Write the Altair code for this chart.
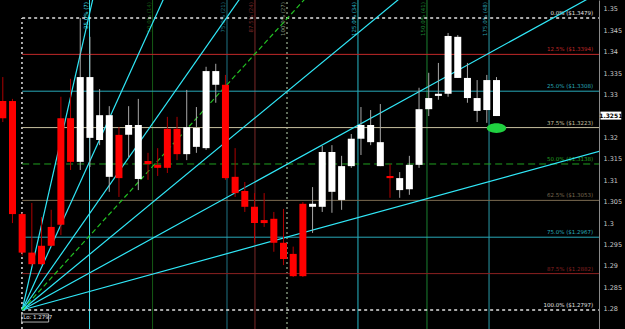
import altair as alt
import pandas as pd

# ---------------- data ----------------
bar_index = list(range(1, 53))
open_ = [1.3285, 1.3285, 1.3021, 1.2931, 1.2947, 1.2991, 1.3245, 1.3245, 1.3143, 1.3199,
         1.3194, 1.3108, 1.3206, 1.3206, 1.3103, 1.3145, 1.3136, 1.3220, 1.3220, 1.3161,
         1.3178, 1.3175, 1.3323, 1.3323, 1.3108, 1.3075, 1.3038, 1.3007, 1.3010, 1.2954,
         1.2928, 1.3045, 1.3038, 1.3038, 1.3073, 1.3054, 1.3133, 1.3197, 1.3189, 1.3133,
         1.3110, 1.3077, 1.3079, 1.3136, 1.3266, 1.3297, 1.3302, 1.3339, 1.3292, 1.3262,
         1.3264, 1.3250]
high = [1.3341, 1.3290, 1.3024, 1.3047, 1.3014, 1.3031, 1.3295, 1.3337, 1.3479, 1.3435,
        1.3313, 1.3273, 1.3224, 1.3273, 1.3290, 1.3164, 1.3175, 1.3248, 1.3248, 1.3311,
        1.3271, 1.3365, 1.3372, 1.3346, 1.3175, 1.3096, 1.3070, 1.3070, 1.3026, 1.3033,
        1.2945, 1.3049, 1.3084, 1.3180, 1.3182, 1.3157, 1.3208, 1.3271, 1.3264, 1.3278,
        1.3138, 1.3119, 1.3157, 1.3316, 1.3351, 1.3374, 1.3444, 1.3439, 1.3374, 1.3334,
        1.3346, 1.3341]
low = [1.3236, 1.3000, 1.2924, 1.2900, 1.2902, 1.2945, 1.2972, 1.3124, 1.3124, 1.3131,
       1.3182, 1.3073, 1.3061, 1.3154, 1.3077, 1.3101, 1.3110, 1.3117, 1.3147, 1.3147,
       1.3164, 1.3171, 1.3281, 1.3101, 1.3061, 1.3026, 1.2954, 1.2991, 1.2933, 1.2902,
       1.2874, 1.2874, 1.2977, 1.3026, 1.3024, 1.3031, 1.3129, 1.3159, 1.3182, 1.3133,
       1.3059, 1.3059, 1.3066, 1.3129, 1.3250, 1.3288, 1.3295, 1.3339, 1.3281, 1.3236,
       1.3234, 1.3250]
close = [1.3245, 1.3021, 1.2931, 1.2904, 1.2904, 1.2947, 1.2996, 1.3143, 1.3341, 1.3341,
         1.3252, 1.3252, 1.3105, 1.3229, 1.3229, 1.3138, 1.3129, 1.3129, 1.3161, 1.3224,
         1.3222, 1.3355, 1.3355, 1.3105, 1.3070, 1.3038, 1.3000, 1.3000, 1.2954, 1.2916,
         1.2876, 1.2876, 1.3045, 1.3166, 1.3166, 1.3133, 1.3197, 1.3229, 1.3229, 1.3189,
         1.3105, 1.3105, 1.3136, 1.3266, 1.3292, 1.3302, 1.3437, 1.3435, 1.3339, 1.3292,
         1.3334, 1.3334]

fib_pct = ["0.0%", "12.5%", "25.0%", "37.5%", "50.0%", "62.5%", "75.0%", "87.5%", "100.0%"]
fib_price = [1.3479, 1.3394, 1.3308, 1.3223, 1.3138, 1.3053, 1.2967, 1.2882, 1.2797]
fib_color = ["#e0e0e0", "#c02828", "#28a8b8", "#c8c0a0", "#20a020", "#7a6a50", "#28a8b8", "#8a2020", "#e0e0e0"]

fan_ratios = [4, 2, 1.3, 1, 0.75, 0.5, 0.25]
fan_unit = 0.002487          # price per bar of the 1x1 line
fan_origin_bar = 3
fan_origin_price = 1.2797

vline_bar = [2.98, 9.96, 16.47, 24.16, 27.05, 30.36, 37.69, 44.82, 51.23]
vline_color = ["#e0e0e0", "#40e0f0", "#145a14", "#1f7484", "#7a2828", "#7f8f78", "#28b8c8", "#1a8030", "#2a9aa8"]
vline_dash = [[2, 3], [], [], [], [], [2, 3], [], [], []]
vline_text = ["", "25.0% (7)", "50.0% (14)", "75.0% (21)", "87.5% (24)", "100.0% (27)",
              "125.0% (34)", "150.0% (41)", "175.0% (48)"]

current_price = 1.3251
ellipse_bar = 52
ellipse_price = 1.3222

X_DOMAIN = [0.711, 62.59]
Y_DOMAIN = [1.27526, 1.35210]
axis_values = [1.28, 1.285, 1.29, 1.295, 1.3, 1.305, 1.31, 1.315, 1.32,
               1.33, 1.335, 1.34, 1.345, 1.35]

FONT = "DejaVu Sans"

# ---------------- tables ----------------
candles = pd.DataFrame(dict(i=bar_index, o=open_, h=high, l=low, c=close))

fan_rows = []
for k, r in enumerate(fan_ratios):
    for x in (fan_origin_bar, X_DOMAIN[1] + 1):
        fan_rows.append(dict(fan=k, ratio=r, i=x,
                             p=fan_origin_price + r * fan_unit * (x - fan_origin_bar)))
fan = pd.DataFrame(fan_rows)

fib = pd.DataFrame(dict(pct=fib_pct, p=fib_price, col=fib_color))
fib["label"] = [f"{a} (${b:.4f})" for a, b in zip(fib_pct, fib_price)]
fib["x0"] = fan_origin_bar
fib["x1"] = X_DOMAIN[1]
fib["xl"] = X_DOMAIN[1] - 0.6

xs = alt.Scale(domain=X_DOMAIN, nice=False, zero=False, padding=0)
ys = alt.Scale(domain=Y_DOMAIN, nice=False, zero=False, padding=0)
yaxis = alt.Axis(orient="right", values=axis_values, format="~g", ticks=False, grid=False,
                 labelColor="#c8c8c8", labelFontSize=6.5, labelFont=FONT, domainColor="#8a8a8a",
                 labelPadding=4, title=None, labelOverlap=False)


def X(f):
    return alt.X(f, scale=xs, axis=None)


def Y(f):
    return alt.Y(f, scale=ys, axis=yaxis)


layers = []

# vertical lines
for b, col, dash, txt in zip(vline_bar, vline_color, vline_dash, vline_text):
    top = fib_price[0] if (dash and b < 5) else Y_DOMAIN[1]
    d = pd.DataFrame(dict(i=[b], y0=[Y_DOMAIN[0]], y1=[top], t=[txt], yt=[Y_DOMAIN[1]]))
    kw = dict(color=col, strokeWidth=1)
    if dash:
        kw["strokeDash"] = dash
        kw["strokeWidth"] = 1.5
    layers.append(alt.Chart(d).mark_rule(**kw).encode(x=X("i:Q"), y=Y("y0:Q"), y2="y1:Q"))
    if txt:
        layers.append(alt.Chart(d).mark_text(angle=270, align="right", baseline="bottom",
                                             fontSize=5.5, font=FONT, color=col, dx=-2, dy=-1).encode(
            x=X("i:Q"), y=Y("yt:Q"), text="t:N"))

# horizontal fib lines
for _, row in fib.iterrows():
    d = pd.DataFrame([row])
    kw = dict(color=row["col"], strokeWidth=1)
    if row["pct"] in ("0.0%", "100.0%"):
        kw["strokeDash"] = [3, 3]
        kw["strokeWidth"] = 1.5
    if row["pct"] == "50.0%":
        kw["strokeDash"] = [7, 4]
    layers.append(alt.Chart(d).mark_rule(**kw).encode(x=X("x0:Q"), x2="x1:Q", y=Y("p:Q")))
    layers.append(alt.Chart(d).mark_text(align="right", baseline="bottom", fontSize=5.5, font=FONT,
                                         color=row["col"], dy=-2).encode(
        x=X("xl:Q"), y=Y("p:Q"), text="label:N"))

# fan lines
layers.append(alt.Chart(fan[fan.ratio != 1]).mark_line(clip=True, color="#30e8f8", strokeWidth=1.2).encode(
    x=X("i:Q"), y=Y("p:Q"), detail="fan:N"))
layers.append(alt.Chart(fan[fan.ratio == 1]).mark_line(clip=True, color="#22c022", strokeWidth=1.2,
                                                      strokeDash=[5, 3]).encode(
    x=X("i:Q"), y=Y("p:Q"), detail="fan:N"))

# candles
layers.append(alt.Chart(candles).mark_rule(strokeWidth=1).encode(
    x=X("i:Q"), y=Y("l:Q"), y2="h:Q",
    color=alt.condition("datum.c < datum.o", alt.value("#b00000"), alt.value("#a8a8a8")),
))
layers.append(alt.Chart(candles).mark_bar(size=7).encode(
    x=X("i:Q"), y=Y("o:Q"), y2="c:Q",
    color=alt.condition("datum.c < datum.o", alt.value("#ff0000"), alt.value("#ffffff")),
))

# green ellipse marker
ell = pd.DataFrame(dict(i=[ellipse_bar], p=[ellipse_price]))
layers.append(alt.Chart(ell).mark_point(
    shape="M -1 0 A 1 0.5 0 1 0 1 0 A 1 0.5 0 1 0 -1 0 Z", size=380, filled=True,
    color="#20d040", opacity=1).encode(x=X("i:Q"), y=Y("p:Q")))

# Lo label with outlined box
lo = pd.DataFrame(dict(i=[fan_origin_bar], p=[fan_origin_price], t=[f"Lo: {fan_origin_price:.4f}"]))
layers.append(alt.Chart(lo).mark_text(align="left", baseline="top", fontSize=5.5, font=FONT,
                                      color="#e0e0e0", dx=1, dy=5).encode(
    x=X("i:Q"), y=Y("p:Q"), text="t:N"))
layers.append(alt.Chart(lo).mark_point(
    shape="M -1 -0.3 L 1 -0.3 L 1 0.3 L -1 0.3 Z", size=729, filled=False, strokeWidth=0.8,
    color="#d8d8d8", opacity=1, xOffset=13, yOffset=8).encode(x=X("i:Q"), y=Y("p:Q")))

# current price box
cp = pd.DataFrame(dict(x0=[X_DOMAIN[1] + 0.15], x1=[X_DOMAIN[1] + 2.3], xm=[X_DOMAIN[1] + 1.22],
                       p=[current_price], t=[f"{current_price:.4f}"]))
layers.append(alt.Chart(cp).mark_rule(color="#ffffff", strokeWidth=8, clip=False).encode(
    x=X("x0:Q"), x2="x1:Q", y=Y("p:Q")))
layers.append(alt.Chart(cp).mark_text(align="center", baseline="middle", fontSize=6, font=FONT,
                                      color="#000000", fontWeight="bold").encode(
    x=X("xm:Q"), y=Y("p:Q"), text="t:N"))

chart = alt.layer(*layers).properties(
    width=599, height=329,
    padding={"left": 0, "top": 0, "right": 26, "bottom": 0},
    autosize=alt.AutoSizeParams(type="none"),
    background="#000000",
).configure_view(stroke=None, fill="#000000")

chart.save("out.html", embed_options={"renderer": "svg", "actions": False})
